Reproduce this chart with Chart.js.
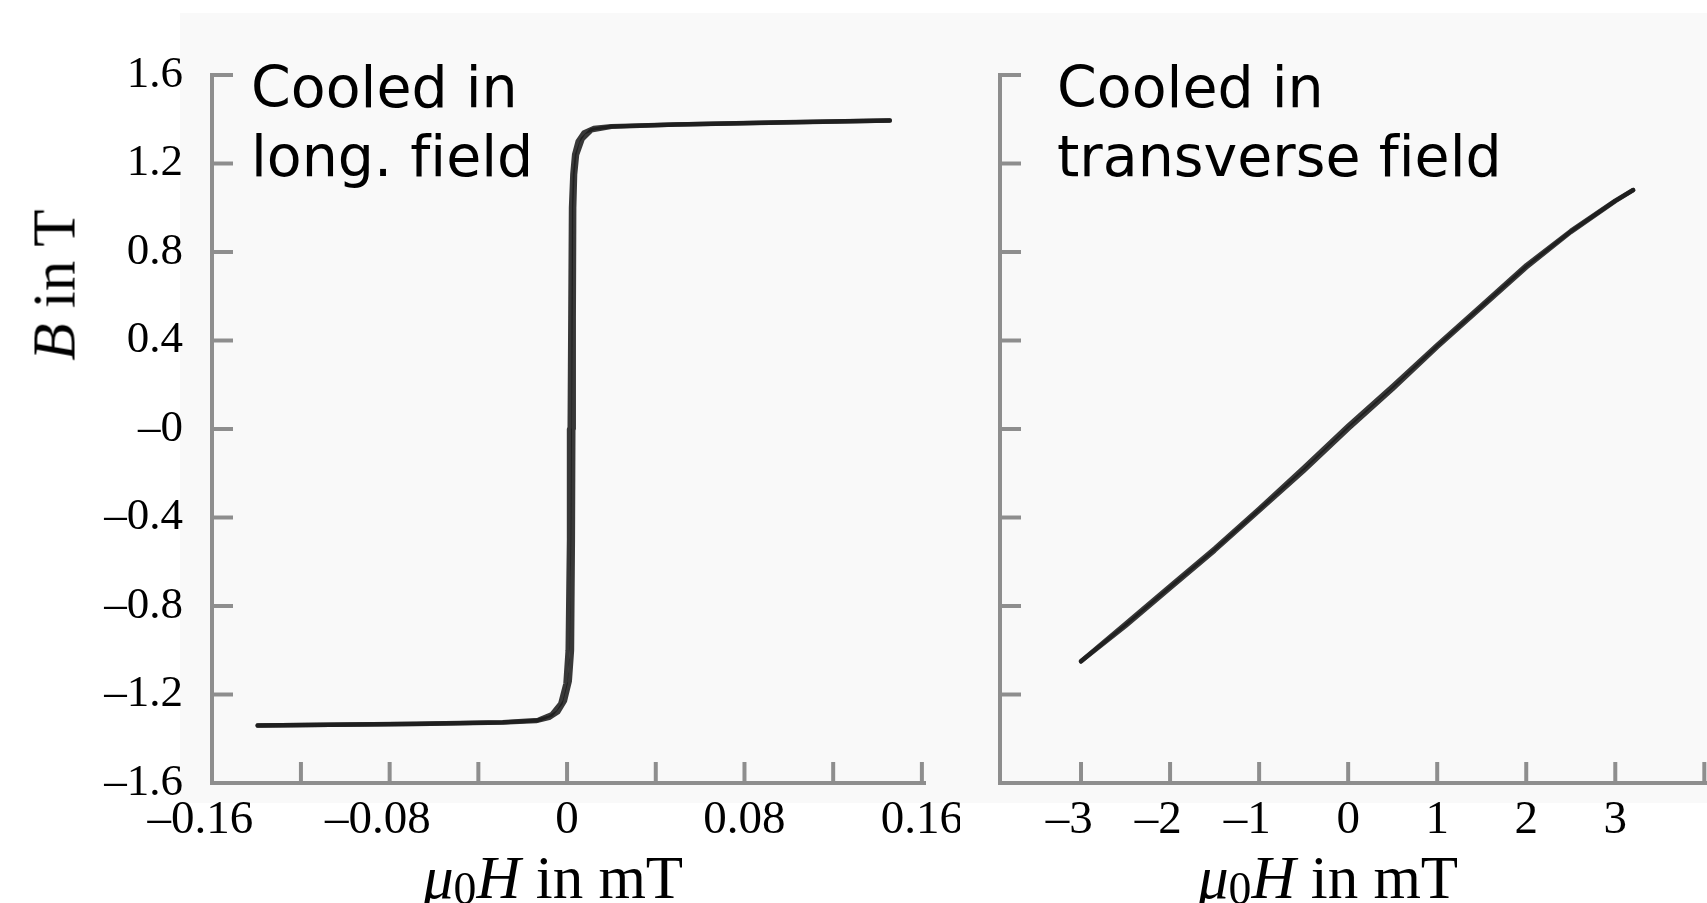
<!DOCTYPE html>
<html><head><meta charset="utf-8">
<script src="https://cdn.jsdelivr.net/npm/chart.js@4.4.1/dist/chart.umd.min.js"></script>
<style>
html,body{margin:0;padding:0;background:#fff;width:1707px;height:903px;overflow:hidden;position:relative;}
.bg{position:absolute;left:180px;top:13px;width:1527px;height:790px;background:#f9f9f9;}
#w1{position:absolute;left:0;top:0;width:960px;height:903px;}
#w2{position:absolute;left:960px;top:0;width:747px;height:903px;}
.t{position:absolute;font-family:'Liberation Serif','Times New Roman',serif;font-size:61px;color:#000;white-space:nowrap;line-height:1;}
.t sub{font-size:0.75em;vertical-align:-0.15em;line-height:0;}
.ann{position:absolute;font-family:'DejaVu Sans','Comic Sans MS',sans-serif;font-size:57px;line-height:69px;color:#000;white-space:nowrap;font-variant-ligatures:none;}
</style></head>
<body>
<div class="bg"></div>
<div id="w1"><canvas id="c1" width="960" height="903"></canvas></div>
<div id="w2"><canvas id="c2" width="747" height="903"></canvas></div>
<div class="t" style="left:54px;top:285px;transform:translate(-50%,-50%) rotate(-90deg);"><i>B</i> in T</div>
<div class="t" style="left:553px;top:877px;transform:translate(-50%,-50%);"><i>μ</i><sub>0</sub><i>H</i> in mT</div>
<div class="t" style="left:1328px;top:877px;transform:translate(-50%,-50%);"><i>μ</i><sub>0</sub><i>H</i> in mT</div>
<div class="ann" style="left:251px;top:53px;">Cooled in<br>long. field</div>
<div class="ann" style="left:1057px;top:53px;">Cooled in<br>transverse field</div>
<script>
// ---- Data ----
// Left panel: cooled in longitudinal field (hysteresis loop)
const leftDescH = [0.1455, 0.0975, 0.049, 0.02, 0.012, 0.0075, 0.0048, 0.0032, 0.0024, 0.0018, 0.0015, 0.0012, 0.0009, 0.0003, -0.0007, -0.003, -0.007, -0.013, -0.029, -0.068, -0.107, -0.1395];
const leftDescB = [1.394, 1.385, 1.376, 1.368, 1.36, 1.34, 1.30, 1.24, 1.15, 1.0, 0.5, 0.0, -0.5, -1.0, -1.15, -1.24, -1.29, -1.315, -1.325, -1.332, -1.337, -1.34];
const leftAscH = [-0.1395, -0.107, -0.068, -0.029, -0.014, -0.008, -0.004, -0.001, 0.0012, 0.0022, 0.0026, 0.0028, 0.0030, 0.0032, 0.0036, 0.0045, 0.007, 0.011, 0.02, 0.049, 0.0975, 0.1455];
const leftAscB = [-1.34, -1.337, -1.333, -1.327, -1.32, -1.305, -1.28, -1.23, -1.14, -1.0, -0.5, 0.0, 0.5, 1.0, 1.15, 1.24, 1.31, 1.35, 1.366, 1.376, 1.386, 1.394];
// Right panel: cooled in transverse field
const rightH = [-3.0, -2.5, -2.0, -1.5, -1.0, -0.5, 0.0, 0.5, 1.0, 1.5, 2.0, 2.5, 3.0, 3.2];
const rightAscB = [-1.05, -0.89, -0.72, -0.55, -0.37, -0.19, 0.0, 0.18, 0.37, 0.55, 0.73, 0.89, 1.03, 1.08];
const rightDescB = [-1.05, -0.88, -0.71, -0.54, -0.36, -0.175, 0.015, 0.195, 0.38, 0.56, 0.74, 0.895, 1.032, 1.08];
// Tick labels and tick marks
const yTickLabels = [1.6, 1.2, 0.8, 0.4, 0, -0.4, -0.8, -1.2, -1.6];
const yTickMarks = [1.6, 1.2, 0.8, 0.4, 0, -0.4, -0.8, -1.2];
const leftXTickLabels = [-0.16, -0.08, 0, 0.08, 0.16];
const leftXTickMarks = [-0.12, -0.08, -0.04, 0, 0.04, 0.08, 0.12, 0.16];
const rightXTickLabels = [-3, -2, -1, 0, 1, 2, 3];
const rightXTickMarks = [-3, -2, -1, 0, 1, 2, 3, 4];

// ---- Styling ----
const axisColor = '#8e8e8e';
const lineColor = 'rgba(28,28,28,0.88)';
const serif = "'Liberation Serif','Times New Roman',serif";
const dash = '\u2013';
const pad = '\u2002'; // en space balances the en dash so the number sits on the tick

function pts(xs, ys){ return xs.map((x,i)=>({x:x, y:ys[i]})); }
function fmtY(v){ if (v === 0) return dash + '0'; return (v<0?dash:'') + Math.abs(v).toFixed(1); }
function fmtXL(v){ if (v === 0) return '0'; return v<0 ? dash + Math.abs(v).toFixed(2) + pad : v.toFixed(2); }
function fmtXR(v){ return v<0 ? dash + Math.abs(v) + pad : String(v); }

const inward = {
  id: 'inward',
  beforeDatasetsDraw(chart, args, o){
    const {ctx, chartArea, scales:{x, y}} = chart;
    ctx.save();
    ctx.strokeStyle = o.color; ctx.lineWidth = o.width; ctx.lineCap = 'butt';
    o.xMarks.forEach(v=>{ const px = x.getPixelForValue(v); ctx.beginPath(); ctx.moveTo(px, chartArea.bottom); ctx.lineTo(px, chartArea.bottom - o.len); ctx.stroke(); });
    o.yMarks.forEach(v=>{ const py = y.getPixelForValue(v); ctx.beginPath(); ctx.moveTo(chartArea.left, py); ctx.lineTo(chartArea.left + o.len, py); ctx.stroke(); });
    ctx.restore();
  }
};

function ds(data){ return {data:data, showLine:true, borderColor:lineColor, borderWidth:4.5, pointRadius:0, tension:0, fill:false, borderJoinStyle:'round', borderCapStyle:'round'}; }

function makeOpts(cfg){
  return {
    responsive:false, animation:false, devicePixelRatio:1,
    layout:{padding:cfg.padding, autoPadding:false},
    plugins:{legend:{display:false}, tooltip:{enabled:false},
      inward:{color:axisColor, width:4, len:21, xMarks:cfg.xMarks, yMarks:cfg.yMarks}},
    scales:{
      x:{type:'linear', min:cfg.xmin, max:cfg.xmax,
        afterBuildTicks:s=>{ s.ticks = cfg.xLabels.map(v=>({value:v})); },
        afterFit:s=>{ s.height = cfg.xHeight; s.paddingLeft = 0; s.paddingRight = 0; },
        grid:{display:true, drawOnChartArea:false, drawTicks:false},
        border:{display:true, color:axisColor, width:4},
        ticks:{color:'#000', font:{family:serif, size:47}, padding:9, maxRotation:0, autoSkip:false, callback:cfg.xFmt}},
      y:{type:'linear', min:-1.6, max:1.6,
        afterBuildTicks:s=>{ s.ticks = yTickLabels.map(v=>({value:v})); },
        afterFit:s=>{ s.width = cfg.yWidth; s.paddingTop = 0; s.paddingBottom = 0; },
        grid:{display:true, drawOnChartArea:false, drawTicks:false},
        border:{display:true, color:axisColor, width:4},
        ticks:{display:cfg.yLabels, color:'#000', font:{family:serif, size:45}, padding:29, autoSkip:false, callback:fmtY}}
    }
  };
}

new Chart(document.getElementById('c1'), {
  type:'scatter',
  data:{datasets:[ds(pts(leftDescH, leftDescB)), ds(pts(leftAscH, leftAscB))]},
  options:makeOpts({padding:{top:75, right:35, left:0, bottom:0}, xmin:-0.1601, xmax:0.1614, xLabels:leftXTickLabels, xMarks:leftXTickMarks, yMarks:yTickMarks, xFmt:fmtXL, xHeight:120, yWidth:212, yLabels:true}),
  plugins:[inward]
});
new Chart(document.getElementById('c2'), {
  type:'scatter',
  data:{datasets:[ds(pts(rightH, rightAscB)), ds(pts(rightH, rightDescB))]},
  options:makeOpts({padding:{top:75, right:0, left:0, bottom:0}, xmin:-3.91, xmax:4.03, xLabels:rightXTickLabels, xMarks:rightXTickMarks, yMarks:yTickMarks, xFmt:fmtXR, xHeight:120, yWidth:40, yLabels:false}),
  plugins:[inward]
});
</script>
</body></html>
